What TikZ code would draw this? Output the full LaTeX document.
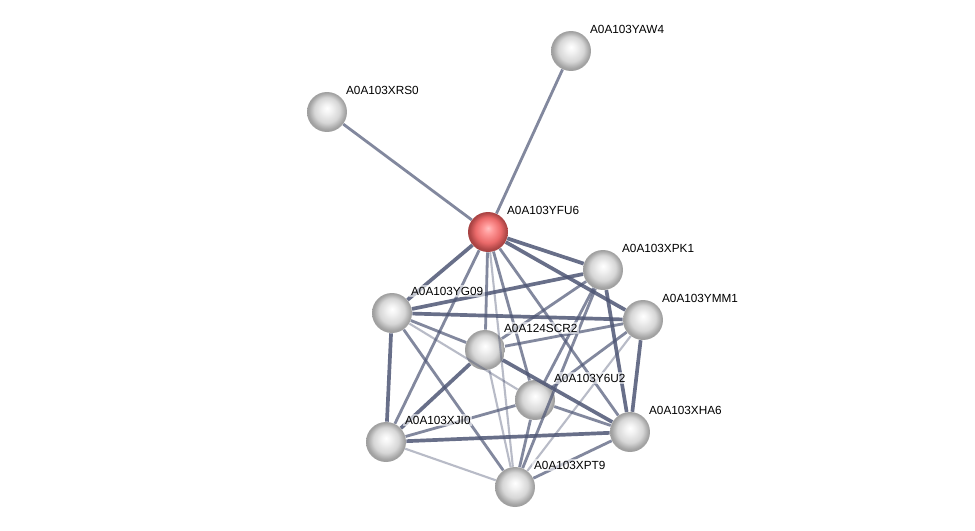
\documentclass[tikz,border=0pt]{standalone}
\usepackage{fontspec}
\setmainfont{Liberation Sans}
\usetikzlibrary{calc}
\definecolor{edgeSlate}{HTML}{4E5675}
\pgfdeclareradialshading{greyball}{\pgfpoint{0bp}{5bp}}{%
  color(0bp)=(white); color(6bp)=(white!95!black); color(16bp)=(white!84!black);
  color(23bp)=(white!64!black); color(30bp)=(white!58!black)}
\pgfdeclareradialshading{redball}{\pgfpoint{0bp}{5bp}}{%
  color(0bp)=(red!25!white); color(6bp)=(red!40!white); color(16bp)=(red!55!white!92!black);
  color(23bp)=(red!60!white!68!black); color(30bp)=(red!60!white!60!black)}

\begin{document}
\begin{tikzpicture}[x=0.02cm,y=-0.02cm,
  protein/.style={circle,minimum size=0.8cm,inner sep=0pt,shade,shading=greyball},
  strong/.style={line width=2.1pt,edgeSlate,opacity=.85},
  mid/.style={line width=1.6pt,edgeSlate,opacity=.7},
  weak/.style={line width=1.2pt,edgeSlate,opacity=.4},
  plabel/.style={anchor=west,font=\fontsize{6.7}{8}\selectfont,fill=white,fill opacity=.6,text opacity=1,inner sep=1pt}]
  \fill[white] (0,0) rectangle (975,531);
  \useasboundingbox (0,0) rectangle (975,531);

  % proteins
  \foreach \n/\x/\y in {yaw4/571/51,xrs0/327/112,xpk1/603/270,yg09/392/313,
      ymm1/643/320,scr2/485/350,y6u2/535/400,xha6/630/432,xji0/386/442,xpt9/515/487} {
    \node[protein] (\n) at (\x,\y) {};
  }
  \node[protein,shading=redball] (yfu6) at (488,232) {};

  % interactions
  \foreach \a/\b in {yg09/ymm1,yg09/xpk1,yg09/xji0,xji0/xha6,xpk1/xha6,ymm1/xha6,
      scr2/xha6,xji0/scr2,yfu6/xpk1,yfu6/yg09,yfu6/ymm1}
    \draw[strong] (\a) -- (\b);
  \foreach \a/\b in {yfu6/xrs0,yfu6/yaw4,yfu6/scr2,yfu6/y6u2,yfu6/xha6,yfu6/xji0,
      yg09/scr2,yg09/xpt9,xpk1/scr2,xpk1/y6u2,xpk1/xpt9,ymm1/scr2,ymm1/y6u2,
      y6u2/xji0,y6u2/xha6,xha6/xpt9,y6u2/xpt9}
    \draw[mid] (\a) -- (\b);
  \foreach \a/\b in {yfu6/xpt9,scr2/xpt9,yg09/y6u2,xji0/xpt9,ymm1/xpt9}
    \draw[weak] (\a) -- (\b);

  % names
  \foreach \n/\lab in {yaw4/A0A103YAW4,xrs0/A0A103XRS0,yfu6/A0A103YFU6,xpk1/A0A103XPK1,
      yg09/A0A103YG09,ymm1/A0A103YMM1,scr2/A0A124SCR2,y6u2/A0A103Y6U2,
      xha6/A0A103XHA6,xji0/A0A103XJI0,xpt9/A0A103XPT9} {
    \node[plabel] (\n-lab) at ($(\n)+(17,-22)$) {\lab};
  }
\end{tikzpicture}
\end{document}
